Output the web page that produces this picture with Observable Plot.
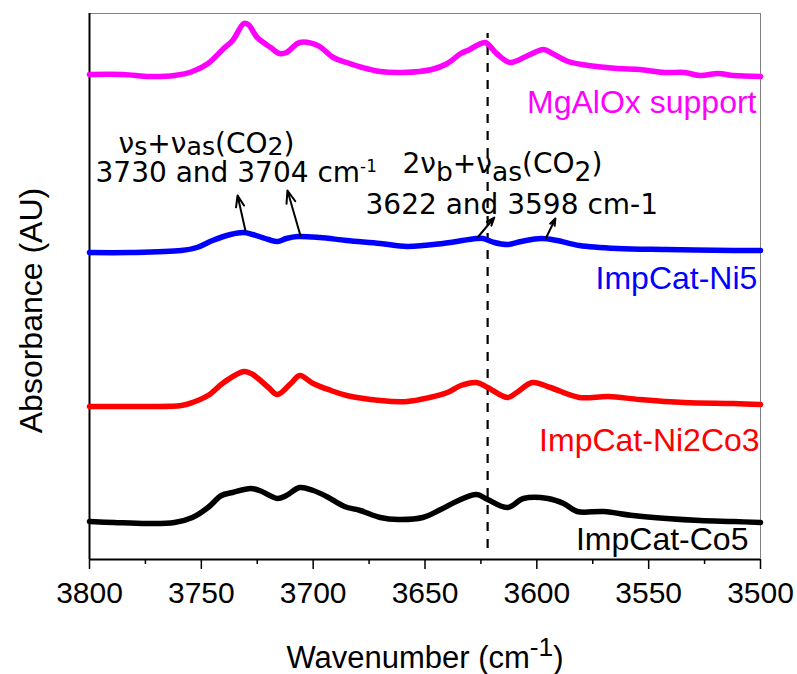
<!DOCTYPE html>
<html><head><meta charset="utf-8">
<script src="https://cdn.jsdelivr.net/npm/d3@7"></script>
<script src="https://cdn.jsdelivr.net/npm/@observablehq/plot@0.6"></script>
<style>body{margin:0;background:#fff}#chart svg{display:block}</style>
</head><body><div id="chart"></div>
<script>
// ---- data ----
const seriesNames = ["MgAlOx support", "ImpCat-Ni5", "ImpCat-Ni2Co3", "ImpCat-Co5"];
const seriesColors = ["#ff00ff", "#0000ff", "#ff0000", "#000000"];

const wnMg = [3800,3785,3773,3762,3754,3747,3740,3736,3731,3729,3725,3719,3715,3712,3706,3698,3691,3685,3678,3670,3660,3647,3640,3634,3630,3626,3623,3618,3612,3604,3597,3593,3586,3577,3564,3554,3543,3534,3527,3519,3512,3500];
const absMg = [4.85,4.85,4.83,4.84,4.88,4.96,5.11,5.19,5.36,5.35,5.22,5.12,5.06,5.07,5.17,5.14,5.02,4.97,4.92,4.88,4.87,4.90,4.96,5.06,5.10,5.15,5.17,5.06,4.97,5.04,5.10,5.06,4.98,4.94,4.91,4.90,4.87,4.87,4.84,4.86,4.84,4.83];

const wnNi5 = [3800,3782,3759,3752,3745,3737,3731,3727,3720,3716,3712,3707,3697,3685,3670,3658,3642,3627,3624,3619,3613,3607,3598,3591,3581,3564,3542,3512,3500];
const absNi5 = [3.07,3.07,3.09,3.12,3.19,3.25,3.27,3.25,3.20,3.18,3.21,3.23,3.22,3.19,3.16,3.13,3.16,3.21,3.21,3.17,3.15,3.18,3.21,3.19,3.14,3.11,3.10,3.09,3.09];

const wnNi2Co3 = [3800,3774,3759,3754,3747,3740,3731,3727,3720,3716,3710,3706,3700,3692,3685,3670,3658,3648,3640,3634,3627,3622,3613,3609,3602,3594,3581,3568,3554,3534,3512,3500];
const absNi2Co3 = [1.53,1.53,1.54,1.57,1.64,1.77,1.88,1.85,1.72,1.65,1.76,1.84,1.76,1.69,1.64,1.59,1.58,1.62,1.67,1.74,1.77,1.72,1.62,1.67,1.77,1.72,1.62,1.63,1.60,1.57,1.56,1.55];

const wnCo5 = [3800,3789,3774,3762,3754,3747,3741,3736,3728,3724,3716,3712,3706,3700,3694,3686,3679,3670,3662,3651,3643,3636,3627,3622,3613,3606,3595,3588,3582,3570,3557,3542,3527,3512,3500];
const absCo5 = [0.38,0.37,0.36,0.37,0.42,0.52,0.64,0.67,0.71,0.69,0.61,0.64,0.72,0.69,0.63,0.53,0.49,0.42,0.40,0.42,0.50,0.58,0.65,0.60,0.52,0.61,0.61,0.56,0.48,0.48,0.44,0.41,0.39,0.38,0.37];

const majorTicks = [3800, 3750, 3700, 3650, 3600, 3550, 3500];
const minorTicks = [3775, 3725, 3675, 3625, 3575, 3525];

const labelX = [3501.8, 3501.4, 3500.4, 3505.4];
const labelY = [4.47, 2.71, 1.09, 0.10];

const dashX = 3622, dashY1 = 0.11, dashY2 = 5.26;

const arrowX1 = [3730.3, 3705.7, 3626.5, 3596.0];
const arrowY1 = [3.29, 3.24, 3.22, 3.21];
const arrowX2 = [3733.8, 3711.5, 3619.0, 3591.7];
const arrowY2 = [3.64, 3.69, 3.42, 3.41];

const ann1Text = ["ν_{s}+ν_{as}(CO_{2})", "3730 and 3704 cm^{-1}"];
const ann1X = [3787.0, 3797.3];
const ann1Y = [4.07, 3.78];
const ann2Text = ["2ν_{b}+ν_{as}(CO_{2})", "3622 and 3598 cm-1"];
const ann2X = [3660.1, 3676.6];
const ann2Y = [3.87, 3.46];

const xTitle = "Wavenumber (cm^{-1})";
const yTitle = "Absorbance (AU)";

// ---- tables built from arrays ----
const rows = [];
[[wnMg, absMg], [wnNi5, absNi5], [wnNi2Co3, absNi2Co3], [wnCo5, absCo5]].forEach(([w, a], i) =>
  w.forEach((x, j) => rows.push({series: seriesNames[i], w: x, a: a[j]})));
const labels = seriesNames.map((n, i) => ({series: n, x: labelX[i], y: labelY[i]}));
const arrows = arrowX1.map((x, i) => ({x1: x, y1: arrowY1[i], x2: arrowX2[i], y2: arrowY2[i]}));
const ann1 = ann1Text.map((t, i) => ({t, x: ann1X[i], y: ann1Y[i]}));
const ann2 = ann2Text.map((t, i) => ({t, x: ann2X[i], y: ann2Y[i]}));

const plot = Plot.plot({
  width: 797, height: 674,
  marginLeft: 89, marginRight: 37, marginTop: 13, marginBottom: 115,
  style: {fontFamily: "'Liberation Sans', Arial, sans-serif", background: "white", color: "black"},
  x: {domain: [3800, 3500], label: null},
  y: {domain: [0, 5.46], axis: null},
  color: {domain: seriesNames, range: seriesColors},
  marks: [
    Plot.frame({stroke: "#808080", strokeWidth: 1}),
    Plot.ruleX([3800], {stroke: "black", strokeWidth: 2}),
    Plot.ruleY([0], {stroke: "black", strokeWidth: 2}),
    Plot.axisX({ticks: majorTicks, tickSize: 10, tickPadding: 12, fontSize: 30, strokeWidth: 1.5, tickFormat: d => String(d)}),
    Plot.axisX({ticks: minorTicks, tickSize: 5, strokeWidth: 1.5, tickFormat: () => ""}),
    Plot.ruleX([dashX], {y1: dashY1, y2: dashY2, stroke: "black", strokeWidth: 2.2, strokeDasharray: "9,8"}),
    Plot.line(rows, {x: "w", y: "a", z: "series", stroke: "series", strokeWidth: 5.5, curve: "catmull-rom", strokeLinejoin: "round", strokeLinecap: "round"}),
    Plot.arrow(arrows, {x1: "x1", y1: "y1", x2: "x2", y2: "y2", stroke: "black", strokeWidth: 2, headLength: 10, headAngle: 40}),
    Plot.text(labels, {x: "x", y: "y", text: "series", fill: "series", textAnchor: "end", lineAnchor: "bottom", fontSize: 32}),
    Plot.text(ann1, {x: "x", y: "y", text: "t", textAnchor: "start", lineAnchor: "bottom", fontSize: 28, fontFamily: "'DejaVu Sans'", fill: "black"}),
    Plot.text(ann2, {x: "x", y: "y", text: "t", textAnchor: "start", lineAnchor: "bottom", fontSize: 28, fontFamily: "'DejaVu Sans'", fill: "black"}),
    Plot.text([xTitle], {text: d => d, frameAnchor: "bottom", lineAnchor: "bottom", dy: 108, fontSize: 31, fill: "black"}),
    Plot.text([yTitle], {text: d => d, frameAnchor: "left", rotate: -90, lineAnchor: "bottom", textAnchor: "middle", dx: -48, dy: 24, fontSize: 32, fill: "black"})
  ]
});
document.getElementById("chart").append(plot);

// rich text: _{..} subscript, ^{..} superscript
const opt1 = {fontSize: 28, subScale: 0.9, subShift: 2, supScale: 0.6, supShift: 10};
const opt2 = {fontSize: 28, subScale: 0.95, subShift: 8, supScale: 0.6, supShift: 10};
const optX = {fontSize: 31, subScale: 0.8, subShift: 6, supScale: 0.85, supShift: 12};
function richify(t, opt) {
  const src = t.textContent;
  t.textContent = "";
  const re = /([_^])\{([^}]*)\}|([^_^]+)/g;
  let shift = 0, m;
  while ((m = re.exec(src))) {
    const ts = document.createElementNS("http://www.w3.org/2000/svg", "tspan");
    if (m[1]) {
      const sub = m[1] === "_";
      const s = sub ? opt.subShift : -opt.supShift;
      ts.setAttribute("dy", s - shift); shift = s;
      ts.setAttribute("font-size", (sub ? opt.subScale : opt.supScale) * opt.fontSize);
      ts.textContent = m[2];
    } else {
      if (shift) ts.setAttribute("dy", -shift);
      shift = 0;
      ts.textContent = m[3];
    }
    t.appendChild(ts);
  }
}
plot.querySelectorAll("text").forEach(t => {
  const s = t.textContent;
  if (ann1Text.includes(s)) richify(t, opt1);
  else if (ann2Text.includes(s)) richify(t, opt2);
  else if (s === xTitle) richify(t, optX);
});
</script>
</body></html>
